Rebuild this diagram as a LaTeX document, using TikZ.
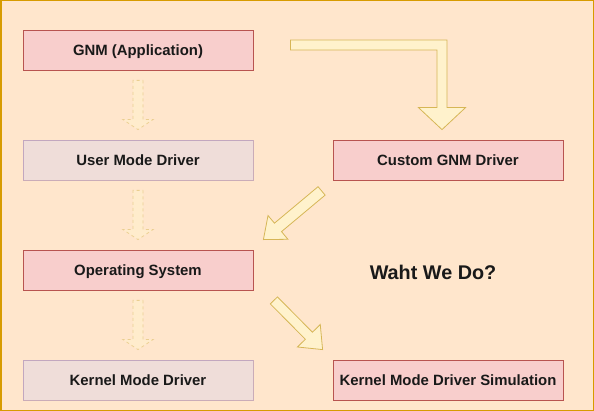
\documentclass[tikz,border=0pt]{standalone}
\usepackage{fontspec}
\setmainfont{Liberation Sans}
\usetikzlibrary{calc}
\definecolor{bgfill}{HTML}{FFE6CC}
\definecolor{bgline}{HTML}{D79B00}
\definecolor{redfill}{HTML}{F8CECC}
\definecolor{redline}{HTML}{B85450}
\definecolor{mauvefill}{HTML}{E1D5E7}
\definecolor{mauveline}{HTML}{9673A6}
\definecolor{arrfill}{HTML}{FFF2CC}
\definecolor{arrline}{HTML}{D6B656}
\newcommand{\boxfont}{\fontsize{14.9}{17}\selectfont\bfseries}
\newcommand{\titlefont}{\fontsize{19.8}{22}\selectfont\bfseries}
% flat block arrow: [style]{from}{to}{half shaft}{half head}{head length}
\newcommand{\fatarrow}[6][]{%
\coordinate (fa-h) at ($(#3)!#6!(#2)$);
\draw[#1] ($(#2)!#4!90:(#3)$) -- ($(fa-h)!#4!-90:(#2)$) -- ($(fa-h)!#5!-90:(#2)$) -- (#3)
 -- ($(fa-h)!#5!90:(#2)$) -- ($(fa-h)!#4!90:(#2)$) -- ($(#2)!#4!-90:(#3)$) -- cycle;}
\begin{document}
\begin{tikzpicture}[x=1pt, y=-1pt,
box/.style={draw, minimum width=230pt, minimum height=40pt, line width=0.8pt, font=\boxfont, text=black!90, text height=10.8pt, text depth=0pt},
redbox/.style={box, fill=redfill, draw=redline},
mauvebox/.style={box, fill=mauvefill, draw=mauveline, fill opacity=0.5, draw opacity=0.5, text opacity=1},
flexarrow/.style={fill=arrfill, draw=arrline, line width=0.8pt, line join=miter},
fadearrow/.style={flexarrow, dashed, dash pattern=on 3pt off 3pt, opacity=0.5}]
\useasboundingbox (0,0) rectangle (594,411);
\draw[fill=bgfill, draw=bgline, line width=1.5pt] (0.75,0.75) rectangle (593.25,410.25);
\node[redbox] (gnm) at (138,50) {GNM (Application)};
\node[mauvebox] (umd) at (138,160) {User Mode Driver};
\node[redbox] (os) at (138,270) {Operating System};
\node[mauvebox] (kmd) at (138,380) {Kernel Mode Driver};
\node[redbox] (cgnm) at (448,160) {Custom GNM Driver};
\node[redbox] (kmds) at (448,380) {Kernel Mode Driver Simulation};
\node[font=\titlefont, text=black!90] (wwd) at (433,272) {Waht We Do?};
% faded arrows down the left column
\coordinate (a1) at ($(gnm.south)+(0,10)$);
\coordinate (b1) at ($(umd.north)+(0,-10)$);
\coordinate (a2) at ($(umd.south)+(0,10)$);
\coordinate (b2) at ($(os.north)+(0,-10)$);
\coordinate (a3) at ($(os.south)+(0,10)$);
\coordinate (b3) at ($(kmd.north)+(0,-10)$);
\fatarrow[fadearrow]{a1}{b1}{5pt}{15pt}{10pt}
\fatarrow[fadearrow]{a2}{b2}{5pt}{15pt}{10pt}
\fatarrow[fadearrow]{a3}{b3}{5pt}{15pt}{10pt}
% bent arrow to the custom driver
\coordinate (la) at ($(gnm.east)+(37,-5)$);
\coordinate (lb) at ($(cgnm.north)+(-6,-10)$);
\draw[flexarrow] ($(la)+(0,-5)$) -- ($(lb|-la)+(5,-5)$) -- ($(lb)+(5,-22)$) -- ($(lb)+(23.5,-22)$) -- (lb)
 -- ($(lb)+(-23.5,-22)$) -- ($(lb)+(-5,-22)$) -- ($(lb|-la)+(-5,5)$) -- ($(la)+(0,5)$) -- cycle;
% diagonal arrows
\coordinate (da) at ($(cgnm.south west)+(-11,10.5)$);
\coordinate (db) at ($(os.north east)+(10,-10)$);
\coordinate (ea) at ($(os.south east)+(20.5,10)$);
\coordinate (eb) at ($(kmds.north west)+(-10,-10)$);
\fatarrow[flexarrow]{da}{db}{5.5pt}{15.5pt}{19pt}
\fatarrow[flexarrow]{ea}{eb}{5pt}{16pt}{19.5pt}
\end{tikzpicture}
\end{document}
